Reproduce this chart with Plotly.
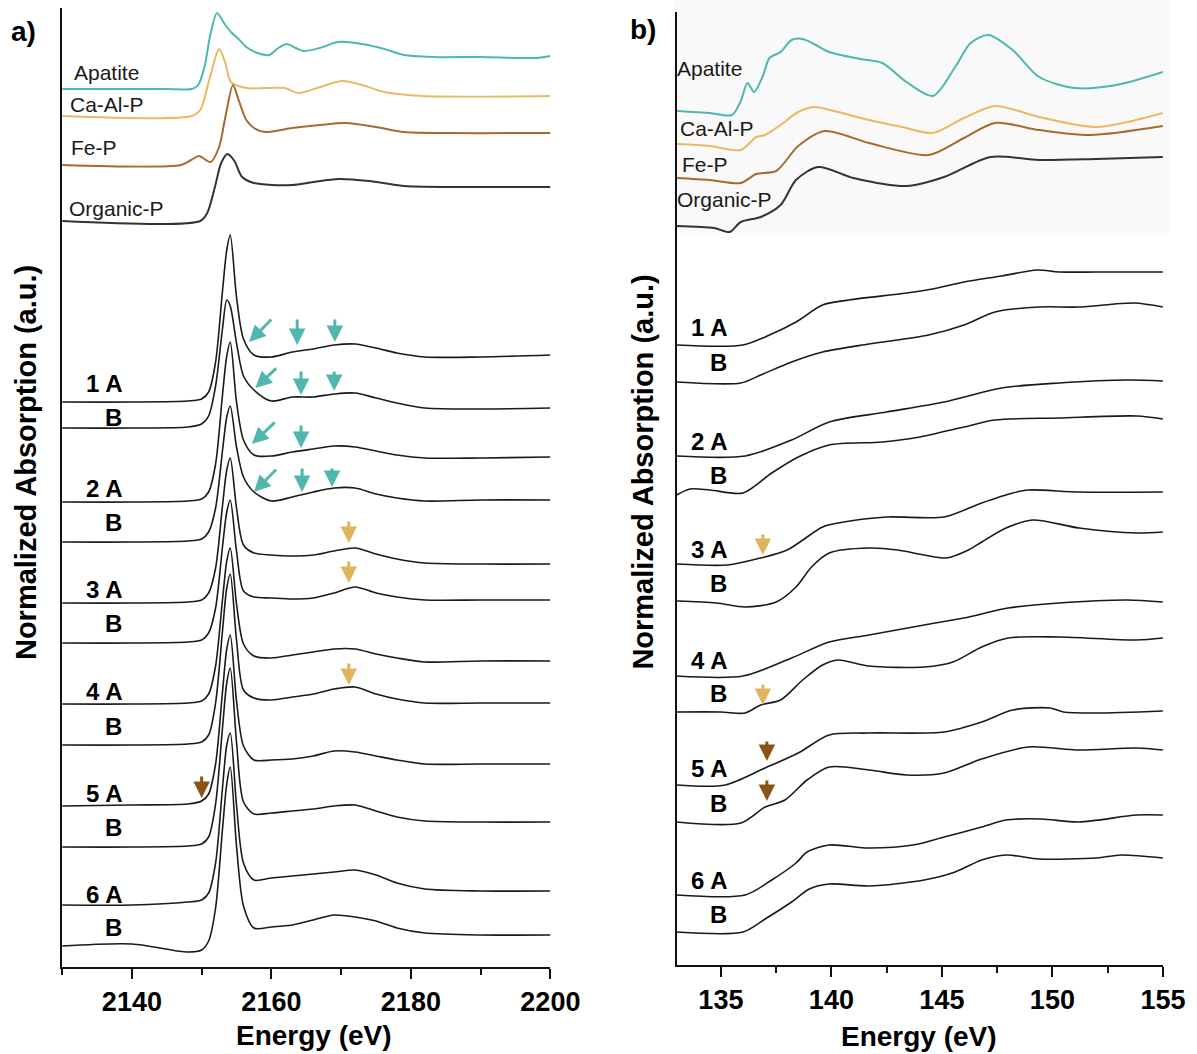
import plotly.graph_objects as go

# Target picture coordinates (1197 x 1054) -> paper coordinates
PW, PH = 1197, 1054
FIG_W, FIG_H = 1230, 1054


def sx(px):
    return px / PW


def sy(py):
    return 1 - py / PH


# ---------------- Panel a (P K-edge) ----------------
e_a_apatite = [2130, 2145, 2148.6, 2149.5, 2150.4, 2151.3, 2152.2, 2153.2, 2154.2, 2155.3, 2156.4, 2158, 2159.7, 2161,
               2162.2, 2163.5, 2164.6, 2166.9, 2169.6, 2173, 2176.2, 2179, 2183, 2190, 2198, 2200]
v_a_apatite = [0, 0, 0, 0.04, 0.22, 0.56, 0.76, 0.66, 0.57, 0.50, 0.42, 0.36, 0.34, 0.41,
               0.45, 0.41, 0.38, 0.41, 0.47, 0.45, 0.40, 0.34, 0.32, 0.32, 0.31, 0.33]
e_a_caalp = [2130, 2148.6, 2149.8, 2151.2, 2152.5, 2153.4, 2154.2, 2156.4, 2161.9, 2163.9, 2167, 2170.2, 2173,
             2176.2, 2181.7, 2200]
v_a_caalp = [0, 0, 0.06, 0.39, 0.67, 0.53, 0.34, 0.28, 0.28, 0.23, 0.29, 0.35, 0.31, 0.24, 0.20, 0.20]
e_a_fep = [2130, 2147, 2148.5, 2149.6, 2151.3, 2152.5, 2153.4, 2154.5, 2155.3, 2156.4, 2157.5, 2159.1, 2163,
           2167, 2170.7, 2175, 2179, 2185, 2200]
v_a_fep = [0, 0, 0.05, 0.09, 0.03, 0.18, 0.48, 0.80, 0.65, 0.45, 0.37, 0.33, 0.37, 0.40, 0.42, 0.38, 0.33,
           0.32, 0.32]
e_a_org = [2130, 2149.8, 2150.8, 2151.9, 2152.8, 2153.7, 2154.7, 2155.8, 2157.5, 2160, 2163, 2166, 2169.6, 2174,
           2179, 2190, 2200]
v_a_org = [0, 0, 0.08, 0.34, 0.58, 0.67, 0.60, 0.44, 0.38, 0.36, 0.36, 0.39, 0.42, 0.40, 0.35, 0.34, 0.34]
ref_offsets_a = [8.78, 8.51, 8.02, 7.46]

e_a = [2130, 2140, 2148, 2150, 2151, 2152, 2153, 2153.6, 2154.1, 2155, 2156, 2157.5, 2160, 2163, 2166, 2169,
       2172, 2175, 2178, 2182, 2190, 2200]
a_1A = [0, 0, 0.01, 0.03, 0.10, 0.40, 1.12, 1.52, 1.67, 1.05, 0.63, 0.47, 0.45, 0.50, 0.53, 0.57, 0.58, 0.54, 0.49, 0.45, 0.45, 0.47]
a_1B = [0, 0, 0.01, 0.04, 0.12, 0.42, 1.00, 1.28, 1.22, 0.85, 0.52, 0.38, 0.27, 0.31, 0.31, 0.34, 0.35, 0.30, 0.25, 0.20, 0.19, 0.20]
a_2A = [0, 0, 0.01, 0.03, 0.10, 0.38, 1.08, 1.46, 1.60, 1.00, 0.62, 0.47, 0.46, 0.50, 0.53, 0.56, 0.55, 0.51, 0.47, 0.44, 0.44, 0.45]
a_2B = [0, 0, 0.01, 0.03, 0.10, 0.34, 0.92, 1.25, 1.36, 0.95, 0.65, 0.50, 0.41, 0.45, 0.50, 0.54, 0.54, 0.48, 0.44, 0.41, 0.42, 0.42]
a_3A = [0, 0, 0.01, 0.03, 0.10, 0.35, 0.98, 1.33, 1.45, 0.95, 0.58, 0.50, 0.48, 0.47, 0.48, 0.52, 0.55, 0.49, 0.44, 0.40, 0.39, 0.39]
a_3B = [0, 0, 0.01, 0.03, 0.10, 0.35, 0.97, 1.31, 1.43, 0.92, 0.52, 0.46, 0.45, 0.44, 0.45, 0.50, 0.56, 0.50, 0.46, 0.43, 0.43, 0.43]
a_4A = [0, 0, 0.01, 0.03, 0.10, 0.38, 1.05, 1.43, 1.56, 1.00, 0.60, 0.48, 0.46, 0.49, 0.52, 0.55, 0.55, 0.50, 0.46, 0.42, 0.43, 0.43]
a_4B = [0, 0, 0.01, 0.03, 0.10, 0.42, 1.15, 1.57, 1.71, 1.05, 0.55, 0.47, 0.45, 0.48, 0.51, 0.56, 0.58, 0.51, 0.46, 0.42, 0.42, 0.42]
a_5A = [0, 0.01, 0.02, 0.05, 0.12, 0.42, 1.15, 1.57, 1.71, 1.05, 0.60, 0.46, 0.46, 0.47, 0.50, 0.55, 0.54, 0.50, 0.46, 0.42, 0.42, 0.42]
a_5B = [0, 0, 0.01, 0.03, 0.10, 0.43, 1.20, 1.64, 1.79, 1.05, 0.45, 0.33, 0.34, 0.36, 0.38, 0.41, 0.42, 0.36, 0.30, 0.26, 0.25, 0.25]
a_6A = [0, 0, 0.03, 0.05, 0.12, 0.42, 1.18, 1.60, 1.72, 1.00, 0.42, 0.25, 0.27, 0.29, 0.31, 0.33, 0.35, 0.30, 0.22, 0.16, 0.14, 0.14]
a_6B = [0, 0.02, -0.06, -0.04, 0.05, 0.38, 1.18, 1.62, 1.79, 1.00, 0.40, 0.18, 0.19, 0.21, 0.26, 0.31, 0.29, 0.25, 0.18, 0.13, 0.11, 0.11]
offsets_a = [5.65, 5.39, 4.65, 4.25, 3.64, 3.24, 2.63, 2.22, 1.61, 1.20, 0.62, 0.21]

# ---------------- Panel b (P L-edge) ----------------
e_b_apatite = [133, 134.5, 135.5, 135.9, 136.2, 136.5, 136.9, 137.2, 137.7, 138.2, 138.7, 139.3, 139.9, 141.3,
               142.3, 143.4, 144.6, 145.6, 146.3, 147.1, 148.2, 149.4, 151, 152.9, 155]
v_b_apatite = [0, -0.02, -0.04, 0.10, 0.28, 0.19, 0.35, 0.53, 0.59, 0.71, 0.72, 0.66, 0.59, 0.52,
               0.48, 0.29, 0.15, 0.44, 0.68, 0.76, 0.61, 0.34, 0.23, 0.26, 0.39]
e_b_caalp = [133, 134.5, 135.9, 136.6, 137.0, 137.7, 138.5, 139.2, 140.3, 141.7, 143.2, 144.6, 146, 147.4,
             149.4, 152, 155]
v_b_caalp = [0, -0.02, -0.06, 0.07, 0.09, 0.19, 0.32, 0.37, 0.32, 0.24, 0.17, 0.11, 0.26, 0.38, 0.27, 0.17, 0.31]
e_b_fep = [133, 134.5, 135.9, 136.6, 137.5, 138.5, 139.7, 141.7, 144.4, 146, 147.4, 149.4, 151.7, 155]
v_b_fep = [0, -0.02, -0.05, 0.04, 0.07, 0.32, 0.47, 0.35, 0.23, 0.40, 0.55, 0.48, 0.43, 0.52]
e_b_org = [133, 134.7, 135.4, 135.9, 136.8, 137.7, 138.4, 139.4, 141, 143.4, 145.1, 147.2, 149.4, 152, 155]
v_b_org = [0, -0.02, -0.06, 0.04, 0.09, 0.21, 0.46, 0.59, 0.48, 0.40, 0.49, 0.69, 0.66, 0.67, 0.69]
ref_offsets_b = [8.54, 8.21, 7.87, 7.39]

e_b_1A = [133, 136.0, 137.2, 138.4, 139.6, 140.8, 143.4, 144.8, 146, 147.7, 149.3, 150.3, 152, 155]
b_1A = [0, 0, 0.10, 0.23, 0.40, 0.45, 0.52, 0.57, 0.63, 0.69, 0.75, 0.73, 0.73, 0.73]
e_b_1B = [133, 135.9, 136.8, 138.2, 139.6, 141.7, 144.4, 146, 147.4, 149.4, 151.2, 153.7, 155]
b_1B = [0, -0.01, 0.07, 0.20, 0.30, 0.38, 0.47, 0.57, 0.70, 0.75, 0.75, 0.79, 0.75]
e_b_2A = [133, 136.1, 138.2, 139.9, 142.5, 145.1, 147.7, 150.3, 153.4, 155]
b_2A = [0, 0, 0.16, 0.34, 0.44, 0.54, 0.68, 0.73, 0.76, 0.75]
e_b_2B = [133, 133.6, 134.5, 136.0, 137.3, 138.5, 139.9, 142.3, 144, 146, 147.4, 150.3, 153.8, 155]
b_2B = [-0.05, 0.01, 0, -0.03, 0.17, 0.33, 0.45, 0.48, 0.53, 0.63, 0.70, 0.72, 0.74, 0.71]
e_b_3A = [133, 135.3, 136.8, 138, 139.6, 140.3, 142.5, 145.1, 146.8, 148.2, 148.9, 151.2, 155]
b_3A = [0, -0.01, 0.06, 0.14, 0.37, 0.41, 0.47, 0.47, 0.61, 0.71, 0.74, 0.72, 0.72]
e_b_3B = [133, 134.8, 136.1, 137.5, 138.4, 139.1, 139.9, 141.7, 143.0, 144.2, 145.2, 146.2, 146.8, 147.9,
          149.1, 151.2, 153.8, 155]
b_3B = [0, -0.02, -0.06, -0.01, 0.14, 0.34, 0.48, 0.53, 0.51, 0.46, 0.43, 0.51, 0.59, 0.73, 0.81, 0.73, 0.68, 0.69]
e_b_4A = [133, 136.0, 138.2, 139.9, 141.7, 144.2, 146, 148, 150.3, 153.4, 155]
b_4A = [0, 0, 0.18, 0.34, 0.41, 0.51, 0.58, 0.68, 0.73, 0.76, 0.74]
e_b_4B = [133, 135, 136.1, 136.8, 137.7, 138.7, 139.6, 140.3, 141.7, 144.2, 145.5, 146.8, 148, 150.3, 153.8, 155]
b_4B = [0, 0, -0.01, 0.07, 0.12, 0.32, 0.47, 0.52, 0.46, 0.45, 0.50, 0.65, 0.74, 0.75, 0.72, 0.74]
e_b_5A = [133, 135.2, 137.0, 138.5, 139.9, 141.7, 145.1, 146.8, 148.2, 149.9, 150.5, 152, 155]
b_5A = [0, 0, 0.17, 0.32, 0.50, 0.52, 0.53, 0.63, 0.75, 0.77, 0.73, 0.72, 0.74]
e_b_5B = [133, 135.9, 137.0, 137.9, 138.9, 139.9, 141.7, 143.4, 145.1, 146.8, 148.9, 151.2, 153.8, 155]
b_5B = [0, -0.01, 0.15, 0.22, 0.42, 0.55, 0.52, 0.47, 0.49, 0.63, 0.75, 0.72, 0.74, 0.72]
e_b_6A = [133, 136.1, 137.3, 138.4, 138.9, 139.9, 141.7, 143.7, 145.1, 146.8, 147.9, 149.5, 151.2, 153.8, 155]
b_6A = [0, 0, 0.15, 0.32, 0.43, 0.50, 0.47, 0.50, 0.58, 0.68, 0.75, 0.76, 0.73, 0.80, 0.80]
e_b_6B = [133, 136.0, 137.0, 138.2, 139.0, 139.9, 141.7, 144.2, 145.6, 146.8, 147.9, 149.4, 152, 153.1, 155]
b_6B = [0, 0, 0.13, 0.30, 0.43, 0.48, 0.46, 0.52, 0.60, 0.72, 0.77, 0.73, 0.74, 0.77, 0.74]
offsets_b = [6.20, 5.83, 5.09, 4.75, 4.01, 3.64, 2.89, 2.53, 1.80, 1.43, 0.70, 0.33]

sample_labels = ["1 A", "B", "2 A", "B", "3 A", "B", "4 A", "B", "5 A", "B", "6 A", "B"]
ref_labels = ["Apatite", "Ca-Al-P", "Fe-P", "Organic-P"]

# arrows: (head energy, head value, tail energy, tail value)
arrows_a_teal = [(2156.8, 6.25, 2160.2, 6.49), (2163.7, 6.22, 2163.7, 6.49), (2169.1, 6.25, 2169.1, 6.49),
                 (2157.7, 5.79, 2160.9, 6.00), (2164.25, 5.72, 2164.25, 5.97), (2169.0, 5.76, 2169.0, 5.97),
                 (2157.2, 5.23, 2160.7, 5.46), (2164.25, 5.19, 2164.25, 5.43),
                 (2157.5, 4.75, 2160.9, 4.99), (2164.4, 4.75, 2164.4, 5.00), (2168.7, 4.80, 2168.7, 5.00)]
arrows_a_gold = [(2171.1, 4.24, 2171.1, 4.47), (2171.1, 3.84, 2171.1, 4.07), (2171.1, 2.82, 2171.1, 3.05)]
arrows_a_brown = [(2150.0, 1.69, 2150.0, 1.92)]
arrows_b_gold = [(136.9, 4.10, 136.9, 4.32), (136.9, 2.60, 136.9, 2.82)]
arrows_b_brown = [(137.08, 2.04, 137.08, 2.25), (137.08, 1.64, 137.08, 1.86)]

C_AP, C_CA, C_FE, C_OR = "#4db8b0", "#e9b964", "#a66a2c", "#333333"
C_ARROW_TEAL, C_ARROW_GOLD, C_ARROW_BROWN = "#4fb7ae", "#e0b45e", "#8a5418"
FONT = "Liberation Sans, Arial, sans-serif"

fig = go.Figure()


def add_line(x, y, color, xa, ya, width=1.6):
    fig.add_trace(go.Scatter(x=x, y=y, mode="lines", xaxis=xa, yaxis=ya, showlegend=False, hoverinfo="skip",
                             line=dict(color=color, width=width, shape="spline", smoothing=0.8)))


for (e, v), off, c in zip([(e_a_apatite, v_a_apatite), (e_a_caalp, v_a_caalp), (e_a_fep, v_a_fep), (e_a_org, v_a_org)],
                          ref_offsets_a, [C_AP, C_CA, C_FE, C_OR]):
    add_line(e, [off + t for t in v], c, "x", "y", 2)
for v, off in zip([a_1A, a_1B, a_2A, a_2B, a_3A, a_3B, a_4A, a_4B, a_5A, a_5B, a_6A, a_6B], offsets_a):
    add_line(e_a, [off + t for t in v], "#1a1a1a", "x", "y", 1.6)

for (e, v), off, c in zip([(e_b_apatite, v_b_apatite), (e_b_caalp, v_b_caalp), (e_b_fep, v_b_fep), (e_b_org, v_b_org)],
                          ref_offsets_b, [C_AP, C_CA, C_FE, C_OR]):
    add_line(e, [off + t for t in v], c, "x2", "y2", 2)
for (e, v), off in zip([(e_b_1A, b_1A), (e_b_1B, b_1B), (e_b_2A, b_2A), (e_b_2B, b_2B), (e_b_3A, b_3A),
                        (e_b_3B, b_3B), (e_b_4A, b_4A), (e_b_4B, b_4B), (e_b_5A, b_5A), (e_b_5B, b_5B),
                        (e_b_6A, b_6A), (e_b_6B, b_6B)], offsets_b):
    add_line(e, [off + t for t in v], "#1a1a1a", "x2", "y2", 1.6)


def arrows(lst, color, xr, yr):
    for x, y, ax, ay in lst:
        fig.add_annotation(x=x, y=y, ax=ax, ay=ay, xref=xr, yref=yr, axref=xr, ayref=yr, text="",
                           showarrow=True, arrowhead=2, arrowsize=1.1, arrowwidth=3, arrowcolor=color)


arrows(arrows_a_teal, C_ARROW_TEAL, "x", "y")
arrows(arrows_a_gold, C_ARROW_GOLD, "x", "y")
arrows(arrows_a_brown, C_ARROW_BROWN, "x", "y")
arrows(arrows_b_gold, C_ARROW_GOLD, "x2", "y2")
arrows(arrows_b_brown, C_ARROW_BROWN, "x2", "y2")


def txt(px, py, s, size, bold=False, xanchor="center", angle=0, color="#000"):
    fig.add_annotation(x=sx(px), y=sy(py), xref="paper", yref="paper", text=s, showarrow=False,
                       xanchor=xanchor, yanchor="middle", textangle=angle,
                       font=dict(family=FONT, size=size, color=color, weight="bold" if bold else "normal"))


lab_y_a = [383, 417, 489, 522, 589, 623, 691, 726, 793, 827, 894, 927]
lab_y_b = [327, 362, 441, 475, 549, 583, 660, 693, 768, 803, 880, 914]
for s, ya, yb in zip(sample_labels, lab_y_a, lab_y_b):
    txt(124, ya, s, 24, True, "right")
    txt(727, yb, s, 24, True, "right")

for s, (xa_, ya_), (xb_, yb_) in zip(ref_labels, [(72, 72), (68, 105), (69, 148), (67, 208)],
                                     [(673, 69), (676, 128), (678, 164), (673, 200)]):
    txt(xa_, ya_, s, 21, False, "left", color="#1a1a1a")
    txt(xb_, yb_, s, 21, False, "left", color="#1a1a1a")

txt(23, 31, "a)", 28, True)
txt(641, 30, "b)", 28, True)
txt(26, 463, "Normalized Absorption (a.u.)", 29, True, angle=-90)
txt(641, 472, "Normalized Absorption (a.u.)", 29, True, angle=-90)
txt(313, 1035, "Energy (eV)", 28, True)
txt(917, 1036, "Energy (eV)", 28, True)

fig.add_shape(type="rect", xref="paper", yref="paper", x0=sx(672), x1=sx(1166), y0=sy(233), y1=1,
              fillcolor="#f9f9f9", line=dict(width=0), layer="below")

axis_common = dict(showline=True, linewidth=2, linecolor="#111", showgrid=False, zeroline=False, mirror=False)
fig.update_layout(
    width=FIG_W, height=FIG_H, margin=dict(l=0, r=0, t=0, b=0), autosize=False,
    paper_bgcolor="white", plot_bgcolor="rgba(0,0,0,0)",
    xaxis=dict(domain=[sx(62), sx(549)], range=[2130, 2200], anchor="y",
               tickvals=[2140, 2160, 2180, 2200], ticks="outside", ticklen=10, tickwidth=2, tickcolor="#111",
               minor=dict(tickvals=[2130, 2150, 2170, 2190], ticks="outside", ticklen=6, tickwidth=2, tickcolor="#111"),
               tickfont=dict(family=FONT, size=27, color="#000", weight="bold"), **axis_common),
    yaxis=dict(domain=[sy(967), sy(8)], range=[0, 9.59], anchor="x", showticklabels=False, ticks="",
               **axis_common),
    xaxis2=dict(domain=[sx(675), sx(1160)], range=[133, 155], anchor="y2",
                tickvals=[135, 140, 145, 150, 155], ticks="outside", ticklen=10, tickwidth=2, tickcolor="#111",
                minor=dict(tickvals=[137.5, 142.5, 147.5, 152.5], ticks="outside", ticklen=6, tickwidth=2, tickcolor="#111"),
                tickfont=dict(family=FONT, size=27, color="#000", weight="bold"), **axis_common),
    yaxis2=dict(domain=[sy(965), sy(12)], range=[0, 9.53], anchor="x2", showticklabels=False, ticks="",
                **axis_common),
)

fig.write_html("out.html", config={"displayModeBar": False},
               post_script="document.body.style.margin='0';document.body.style.overflow='hidden';")
